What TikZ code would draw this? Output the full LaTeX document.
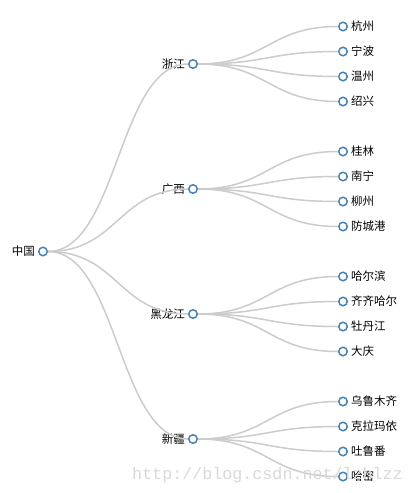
\documentclass[tikz,border=0pt]{standalone}
\usepackage{fontspec}
\newfontfamily\cjk{Noto Sans CJK SC}
\newfontfamily\wmfont{Liberation Mono}
\definecolor{steelblue}{HTML}{4682B4}
\definecolor{linkgray}{HTML}{CCCCCC}
\tikzset{
    dot/.style={circle, draw=steelblue, fill=white, line width=1.5pt, inner sep=0pt, minimum size=8.5pt},
    lbl/.style={inner sep=0pt, font=\cjk\fontsize{11.5}{13}\selectfont},
    link/.style={draw=linkgray, line width=1.5pt}
}
\begin{document}
\begin{tikzpicture}[x=1pt, y=-1pt]

            % the frame
            \useasboundingbox[fill=white] (0, 0) rectangle (416, 493);

            % the root
            \node[dot] (root) at (43, 251.5) {};
            \node[lbl, anchor=east] (root-lbl) at ([xshift=-8pt]root.center) {中国};

            % the provinces and their cities
            \foreach \p/\name/\leaves [count=\i] in {zj/浙江/{杭州,宁波,温州,绍兴},
                    gx/广西/{桂林,南宁,柳州,防城港},
                    hlj/黑龙江/{哈尔滨,齐齐哈尔,牡丹江,大庆},
                    xj/新疆/{乌鲁木齐,克拉玛依,吐鲁番,哈密}} {
                \pgfmathsetmacro{\y}{64 + (\i - 1) * 125}
                \node[dot] (\p) at (193, \y) {};
                \node[lbl, anchor=east] (\p-lbl) at ([xshift=-8pt]\p.center) {\name};
                \draw[link] (root) .. controls ([xshift=75pt]root.center) and ([xshift=-75pt]\p.center) .. (\p);
                \foreach \c [count=\k] in \leaves {
                    \node[dot] (\p-\k) at (343, {\y + (\k - 2.5) * 25}) {};
                    \node[lbl, anchor=west] (\p-\k-lbl) at ([xshift=8pt]\p-\k.center) {\c};
                    \draw[link] (\p) .. controls ([xshift=75pt]\p.center) and ([xshift=-75pt]\p-\k.center) .. (\p-\k);
                }
            }

            % the watermark
            \node[anchor=base west, inner sep=0pt, text=black!15, font=\wmfont\fontsize{16.7}{18}\selectfont] (mark) at (132, 479) {http://blog.csdn.net/lzhlzz};
        \end{tikzpicture}
\end{document}
